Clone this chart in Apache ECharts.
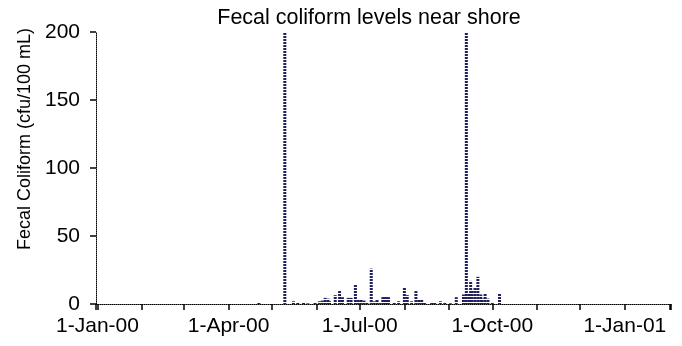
<!DOCTYPE html>
<html>
<head>
<meta charset="utf-8">
<script src="https://cdn.jsdelivr.net/npm/echarts@6/dist/echarts.min.js"></script>
<style>
html,body{margin:0;padding:0;background:#fff;}
#chart{width:682px;height:346px;}
</style>
</head>
<body>
<div id="chart"></div>
<script>
// ---- data ----
const sampleDates = [
  '2000-04-22','2000-05-10','2000-05-16','2000-05-19','2000-05-23','2000-05-26','2000-05-31',
  '2000-06-03','2000-06-05','2000-06-07','2000-06-09','2000-06-10','2000-06-14','2000-06-17',
  '2000-06-19','2000-06-23','2000-06-25','2000-06-28','2000-06-30','2000-07-02','2000-07-04',
  '2000-07-06','2000-07-09','2000-07-11','2000-07-13','2000-07-15','2000-07-17','2000-07-18',
  '2000-07-19','2000-07-20','2000-07-21','2000-07-25','2000-07-28','2000-08-01','2000-08-03',
  '2000-08-06','2000-08-09','2000-08-11','2000-08-13','2000-08-15','2000-08-20','2000-08-22',
  '2000-08-26','2000-08-29','2000-09-02','2000-09-06','2000-09-11','2000-09-13','2000-09-15',
  '2000-09-16','2000-09-17','2000-09-19','2000-09-21','2000-09-23','2000-09-24','2000-09-26',
  '2000-09-28','2000-10-01','2000-10-06'
];
const fecalColiform = [
  1,200,2,1,1,0.5,1,
  2,2.5,4.5,4,2,6.5,9.5,
  5,4.5,4.5,14,3,3,2.5,
  1.5,26,2,3.5,0.7,5,5,
  5,5,5,1,2,12.5,6.5,
  2,9.5,3,3,1,1,1,
  2,1,0.5,5,7,200,8,
  17,10,12,20,7,4,8,
  4,1.5,8
];
const xRange = ['2000-01-01','2001-02-01'];
const labelMonths = [0,3,6,9];   // Jan, Apr, Jul, Oct labelled
const monthNames = ['Jan','Feb','Mar','Apr','May','Jun','Jul','Aug','Sep','Oct','Nov','Dec'];
const yTicks = [0,50,100,150,200];

function ts(s){ const p = s.split('-').map(Number); return new Date(p[0], p[1]-1, p[2]).getTime(); }

const seriesData = sampleDates.map((d,i) => [ts(d), fecalColiform[i]]);

// striped bar fill
const pc = document.createElement('canvas');
pc.width = 4; pc.height = 3;
const g = pc.getContext('2d');
g.fillStyle = '#1f1f5e'; g.fillRect(0,0,4,2);
g.fillStyle = '#ffffff'; g.fillRect(0,2,4,1);

const FONT = 'Liberation Sans, Arial, sans-serif';
const DAY = 86400000;
const chart = echarts.init(document.getElementById('chart'), null, {renderer:'canvas'});
chart.setOption({
  animation: false,
  grid: {left: 96, right: 11, top: 32, bottom: 42, containLabel: false},
  graphic: [{
    type: 'text', x: 369, y: 18,
    style: {text: 'Fecal coliform levels near shore', fill: '#000',
      font: '21.5px ' + FONT, align: 'center', verticalAlign: 'middle'}
  }, {
    type: 'text', x: 25, y: 139, rotation: Math.PI/2,
    style: {text: 'Fecal Coliform (cfu/100 mL)', fill: '#000',
      font: '18px ' + FONT, align: 'center', verticalAlign: 'middle'}
  }],
  xAxis: {
    type: 'time',
    min: ts(xRange[0]), max: ts(xRange[1]),
    splitNumber: 13, minInterval: 28*DAY, maxInterval: 31*DAY,
    axisLine: {show: true, lineStyle: {color: '#000', width: 1, type: 'dotted'}},
    axisTick: {show: true, length: 6, lineStyle: {color:'#000', width: 1.5}},
    axisLabel: {color:'#000', fontSize: 21, fontFamily: FONT, margin: 12,
      hideOverlap: false, showMinLabel: true, showMaxLabel: true,
      formatter: function(v){ const d = new Date(v);
        if (d.getDate() !== 1 || labelMonths.indexOf(d.getMonth()) < 0) return '';
        return d.getDate() + '-' + monthNames[d.getMonth()] + '-' + String(d.getFullYear()).slice(2); }},
    splitLine: {show: false}
  },
  yAxis: {
    type: 'value', min: yTicks[0], max: yTicks[yTicks.length-1], interval: 50,
    axisLine: {show: true, lineStyle: {color: '#000', width: 1, type: 'dotted'}},
    axisTick: {show: true, length: 6, lineStyle: {color:'#000', width: 1.5}},
    axisLabel: {color:'#000', fontSize: 21, fontFamily: FONT, margin: 16},
    splitLine: {show: false}
  },
  series: [{
    type: 'bar', data: seriesData, barWidth: 3, clip: true,
    itemStyle: {color: {image: pc, repeat: 'repeat'}}
  }]
});
</script>
</body>
</html>
